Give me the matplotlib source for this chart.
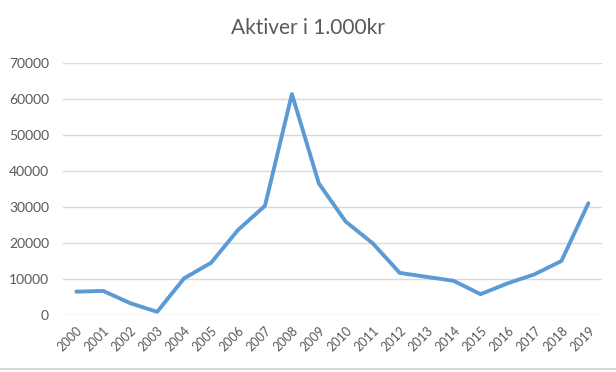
import matplotlib
matplotlib.use("Agg")
import matplotlib.pyplot as plt

# data
years = [str(y) for y in range(2000, 2020)]
aktiver = [6500, 6700, 3300, 900, 10200, 14500, 23600, 30300, 61300, 36500,
           25900, 19900, 11700, 10600, 9500, 5800, 8800, 11300, 15000, 31000]
y_ticks = [0, 10000, 20000, 30000, 40000, 50000, 60000, 70000]

plt.rcParams['font.family'] = ['Lato', 'DejaVu Sans']

fig = plt.figure(figsize=(6.16, 3.72), dpi=100)
ax = fig.add_axes([0.102, 0.153, 0.875, 0.6785])

ax.plot(range(len(years)), aktiver, color='#5B9BD5', linewidth=2.8,
        solid_joinstyle='round', solid_capstyle='round', zorder=3)

ax.set_xlim(-0.5, len(years) - 0.5)
ax.set_ylim(0, 70000)
ax.set_yticks(y_ticks)
ax.set_yticklabels([str(v) for v in y_ticks])
ax.set_xticks(range(len(years)))
ax.set_xticklabels(years, rotation=45, ha='right', rotation_mode='anchor')

ax.grid(axis='y', color='#D9D9D9', linewidth=1)
ax.set_axisbelow(True)
for s in ax.spines.values():
    s.set_visible(False)
ax.tick_params(length=0, colors='#595959', labelsize=10)
ax.tick_params(axis='y', pad=10)
ax.tick_params(axis='x', pad=7, labelsize=9)

fig.text(0.5, 0.925, 'Aktiver i 1.000kr', ha='center', va='center',
         fontsize=15, color='#595959')

# thin border at the bottom of the chart area
fig.add_artist(plt.Line2D([0, 1], [0.008, 0.008], color='#D9D9D9', linewidth=1.5,
                          transform=fig.transFigure))

fig.savefig('out.png', dpi=100)
